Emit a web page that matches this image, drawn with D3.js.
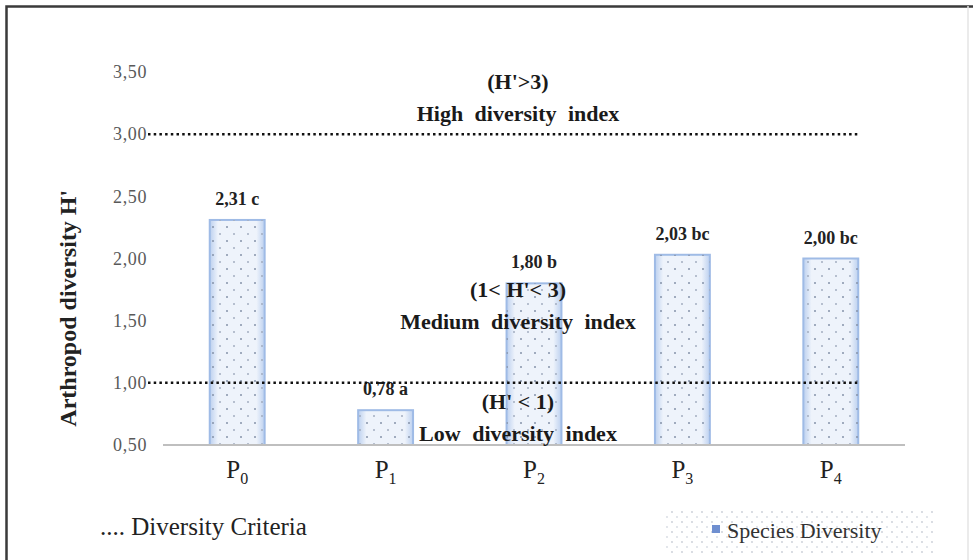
<!DOCTYPE html>
<html>
<head>
<meta charset="utf-8">
<script src="https://cdn.jsdelivr.net/npm/d3@7"></script>
<style>
  body { margin: 0; background: #fff; }
  svg { display: block; }
  text { font-family: "Liberation Serif", "Times New Roman", serif; }
</style>
</head>
<body>
<div id="chart"></div>
<script>
const plots = ['P0', 'P1', 'P2', 'P3', 'P4'];
const diversity = [2.31, 0.78, 1.80, 2.03, 2.00];
const letters = ['c', 'a', 'b', 'bc', 'bc'];
const yTicks = [0.5, 1.0, 1.5, 2.0, 2.5, 3.0, 3.5];
const criteriaLines = [1, 3];
const criteriaTitles = ["(H'>3)", '(1< H\'< 3)', "(H' < 1)"];
const criteriaNames = ['High diversity index', 'Medium diversity index', 'Low diversity index'];

const width = 973;
const height = 560;
const comma = v => d3.format('.2f')(v).replace('.', ',');

const svg = d3.select('#chart').append('svg')
  .attr('width', width)
  .attr('height', height);

const defs = svg.append('defs');

const barGrad = defs.append('linearGradient')
  .attr('id', 'barGrad')
  .attr('x1', 0).attr('x2', 1).attr('y1', 0).attr('y2', 0);
barGrad.append('stop').attr('offset', '0%').attr('stop-color', '#bcd0ef');
barGrad.append('stop').attr('offset', '15%').attr('stop-color', '#eef3fb');
barGrad.append('stop').attr('offset', '85%').attr('stop-color', '#eef3fb');
barGrad.append('stop').attr('offset', '100%').attr('stop-color', '#bcd0ef');

const dots = defs.append('pattern')
  .attr('id', 'dots')
  .attr('patternUnits', 'userSpaceOnUse')
  .attr('width', 14).attr('height', 14);
dots.append('circle').attr('cx', 3).attr('cy', 3).attr('r', 1).attr('fill', '#8593aa');
dots.append('circle').attr('cx', 10).attr('cy', 10).attr('r', 1).attr('fill', '#a3aec1');

const legendDots = defs.append('pattern')
  .attr('id', 'legendDots')
  .attr('patternUnits', 'userSpaceOnUse')
  .attr('width', 10).attr('height', 10);
legendDots.append('circle').attr('cx', 2).attr('cy', 2).attr('r', 0.9).attr('fill', '#c8cdd6');
legendDots.append('circle').attr('cx', 7).attr('cy', 7).attr('r', 0.9).attr('fill', '#d6dae1');

// frame
svg.append('path')
  .attr('d', 'M6.5,560 V6.5 H973')
  .attr('fill', 'none')
  .attr('stroke', '#3a3a3a')
  .attr('stroke-width', 2.5);
svg.append('line')
  .attr('x1', 968).attr('x2', 968).attr('y1', 6).attr('y2', 560)
  .attr('stroke', '#e4e4e4').attr('stroke-width', 1.5);

const x = d3.scaleBand().domain(plots).range([163, 905])
  .paddingInner(0.63).paddingOuter(0.315);
const y = d3.scaleLinear().domain([0.5, 3.5]).range([445, 72]);

// y axis
const yAxis = svg.append('g')
  .attr('transform', 'translate(163,0)')
  .call(d3.axisLeft(y).tickValues(yTicks).tickSize(0).tickPadding(16).tickFormat(comma));
yAxis.select('.domain').remove();
yAxis.selectAll('text')
  .attr('font-family', '"Liberation Serif", serif')
  .attr('font-size', 18)
  .attr('letter-spacing', 0.6)
  .attr('fill', '#595959');

svg.append('text')
  .attr('transform', `translate(76,${y(1.6)}) rotate(-90)`)
  .attr('text-anchor', 'middle')
  .attr('font-size', 24)
  .attr('font-weight', 'bold')
  .attr('fill', '#222')
  .text("Arthropod diversity H'");

// bars
svg.selectAll('.bar')
  .data(diversity)
  .enter()
  .append('rect')
  .attr('class', 'bar')
  .attr('x', (d, i) => x(plots[i]))
  .attr('y', d => y(d))
  .attr('width', x.bandwidth())
  .attr('height', d => y(0.5) - y(d))
  .attr('fill', 'url(#barGrad)')
  .attr('stroke', '#9fbbe6')
  .attr('stroke-width', 2);

svg.selectAll('.bardots')
  .data(diversity)
  .enter()
  .append('rect')
  .attr('class', 'bardots')
  .attr('x', (d, i) => x(plots[i]))
  .attr('y', d => y(d))
  .attr('width', x.bandwidth())
  .attr('height', d => y(0.5) - y(d))
  .attr('fill', 'url(#dots)');

// value labels
svg.selectAll('.val')
  .data(diversity)
  .enter()
  .append('text')
  .attr('class', 'val')
  .attr('x', (d, i) => x(plots[i]) + x.bandwidth() / 2)
  .attr('y', d => y(d) - 15)
  .attr('text-anchor', 'middle')
  .attr('font-size', 18)
  .attr('font-weight', 'bold')
  .attr('fill', '#222')
  .text((d, i) => `${comma(d)} ${letters[i]}`);

// baseline
svg.append('line')
  .attr('x1', 163).attr('x2', 905)
  .attr('y1', y(0.5)).attr('y2', y(0.5))
  .attr('stroke', '#bfbfbf')
  .attr('stroke-width', 2);

// criteria lines
svg.selectAll('.crit')
  .data(criteriaLines)
  .enter()
  .append('line')
  .attr('class', 'crit')
  .attr('x1', 148).attr('x2', 860)
  .attr('y1', d => y(d)).attr('y2', d => y(d))
  .attr('stroke', '#111')
  .attr('stroke-width', 2.5)
  .attr('stroke-dasharray', '2.5,3.2');

// criteria text
const critAnchors = [3.42, 1.747, 0.846];
criteriaTitles.forEach((t, i) => {
  const g = svg.append('g');
  g.append('text')
    .attr('x', 518)
    .attr('y', y(critAnchors[i]) + 7)
    .attr('text-anchor', 'middle')
    .attr('font-size', 22)
    .attr('font-weight', 'bold')
    .attr('fill', '#1a1a1a')
    .text(t);
  g.append('text')
    .attr('x', 518)
    .attr('y', y(critAnchors[i]) + 39)
    .attr('text-anchor', 'middle')
    .attr('font-size', 22)
    .attr('font-weight', 'bold')
    .attr('fill', '#1a1a1a')
    .attr('word-spacing', 6)
    .text(criteriaNames[i]);
});

// x labels
const xl = svg.selectAll('.xl')
  .data(plots)
  .enter()
  .append('text')
  .attr('class', 'xl')
  .attr('x', d => x(d) + x.bandwidth() / 2)
  .attr('y', 478)
  .attr('text-anchor', 'middle')
  .attr('font-size', 25)
  .attr('fill', '#222');
xl.append('tspan').text(d => d[0]);
xl.append('tspan').attr('dy', 6).attr('font-size', 16).text(d => d.slice(1));

// legend left
svg.append('text')
  .attr('x', 100).attr('y', 535)
  .attr('font-size', 25)
  .attr('fill', '#222')
  .text('.... Diversity Criteria');

// legend right
svg.append('rect')
  .attr('x', 663).attr('y', 510)
  .attr('width', 270).attr('height', 45)
  .attr('fill', 'url(#legendDots)');
svg.append('rect')
  .attr('x', 712).attr('y', 525)
  .attr('width', 8).attr('height', 8)
  .attr('fill', '#6f8fd0');
svg.append('text')
  .attr('x', 727).attr('y', 538)
  .attr('font-size', 22)
  .attr('fill', '#333')
  .text('Species Diversity');
</script>
</body>
</html>
